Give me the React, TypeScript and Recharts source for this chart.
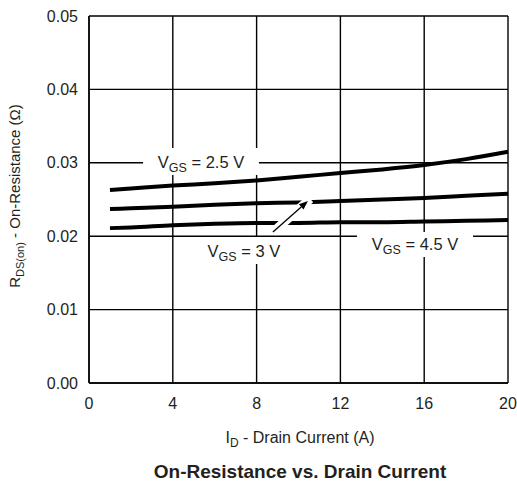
import React from 'react';
import { LineChart, Line, XAxis, YAxis, CartesianGrid, ReferenceArea, ReferenceLine } from 'recharts';

const currentA = [1, 2, 4, 6, 8, 10, 12, 14, 16, 18, 20];
const rdsVgs25 = [0.0263, 0.0265, 0.0269, 0.0272, 0.0276, 0.0281, 0.0286, 0.0291, 0.0297, 0.0305, 0.0315];
const rdsVgs3 = [0.0237, 0.0238, 0.024, 0.0243, 0.0245, 0.0246, 0.0248, 0.025, 0.0252, 0.0255, 0.0258];
const rdsVgs45 = [0.0211, 0.0212, 0.0215, 0.0217, 0.0218, 0.0218, 0.0219, 0.0219, 0.022, 0.0221, 0.0222];
const xTicks = [0, 4, 8, 12, 16, 20];
const yTicks = [0, 0.01, 0.02, 0.03, 0.04, 0.05];

const data = currentA.map((x, i) => ({ x, v25: rdsVgs25[i], v3: rdsVgs3[i], v45: rdsVgs45[i] }));

const TXT = '#231f20';
const FONT = 'Liberation Sans, Arial, Helvetica, sans-serif';

const vgsLabel = (value: string) => (props: any) => {
  const vb = props.viewBox || {};
  const cx = vb.x + vb.width / 2;
  const cy = vb.y + vb.height / 2;
  return (
    <text x={cx} y={cy + 6} textAnchor="middle" fontSize={16.5} fontFamily={FONT} fill={TXT}>
      V<tspan dy={4} fontSize={12.5}>GS</tspan>
      <tspan dy={-4}>{` = ${value}`}</tspan>
    </text>
  );
};

const arrowShape = (props: any) => {
  const { x1, y1, x2, y2 } = props;
  if ([x1, y1, x2, y2].some((v) => typeof v !== 'number' || isNaN(v))) return <g />;
  const dx = x2 - x1;
  const dy = y2 - y1;
  const len = Math.sqrt(dx * dx + dy * dy);
  const ux = dx / len;
  const uy = dy / len;
  const hl = 9;
  const hw = 3.5;
  const bx = x2 - ux * hl;
  const by = y2 - uy * hl;
  const pts = `${x2},${y2} ${bx - uy * hw},${by + ux * hw} ${bx + uy * hw},${by - ux * hw}`;
  return (
    <g>
      <line x1={x1} y1={y1} x2={x2 + ux * 3} y2={y2 + uy * 3} stroke="#fff" strokeWidth={9} />
      <line x1={x1} y1={y1} x2={bx} y2={by} stroke="#000" strokeWidth={1.3} />
      <polygon points={pts} fill="#000" />
    </g>
  );
};

export default function App() {
  return (
    <div style={{ position: 'absolute', left: 0, top: 0, width: 517, height: 484, background: '#fff' }}>
      <LineChart width={517} height={484} data={data} margin={{ top: 16, right: 9, bottom: 71, left: 29 }}>
        <CartesianGrid stroke="#000" strokeWidth={1.4} strokeOpacity={1} />
        <XAxis
          dataKey="x"
          type="number"
          domain={[0, 20]}
          ticks={xTicks}
          height={30}
          axisLine={{ stroke: '#000', strokeWidth: 1.4 }}
          tickLine={false}
          tickSize={0}
          tickMargin={15}
          tick={{ fill: TXT, fontSize: 16, fontFamily: FONT }}
        />
        <YAxis
          type="number"
          domain={[0, 0.05]}
          ticks={yTicks}
          width={60}
          axisLine={{ stroke: '#000', strokeWidth: 1.4 }}
          tickLine={false}
          tickSize={0}
          tickMargin={11}
          tickFormatter={(v: number) => v.toFixed(2)}
          tick={{ fill: TXT, fontSize: 16, fontFamily: FONT }}
        />
        <ReferenceArea x1={2.58} x2={8.11} y1={0.02834} y2={0.032} fill="#fff" fillOpacity={1} stroke="none" ifOverflow="visible" label={vgsLabel('2.5 V')} />
        <ReferenceArea x1={4.96} x2={9.83} y1={0.01621} y2={0.01989} fill="#fff" fillOpacity={1} stroke="none" ifOverflow="visible" label={vgsLabel('3 V')} />
        <ReferenceArea x1={12.79} x2={18.33} y1={0.01717} y2={0.02057} fill="#fff" fillOpacity={1} stroke="none" ifOverflow="visible" label={vgsLabel('4.5 V')} />
        <Line dataKey="v25" type="monotone" stroke="#000" strokeWidth={4} dot={false} isAnimationActive={false} />
        <Line dataKey="v3" type="monotone" stroke="#000" strokeWidth={4} dot={false} isAnimationActive={false} />
        <Line dataKey="v45" type="monotone" stroke="#000" strokeWidth={4} dot={false} isAnimationActive={false} />
        <ReferenceLine
          segment={[{ x: 8.78, y: 0.02057 }, { x: 10.45, y: 0.0248 }]}
          ifOverflow="visible"
          shape={arrowShape}
          zIndex={1000}
        />
      </LineChart>
      <svg width={517} height={484} style={{ position: 'absolute', left: 0, top: 0, pointerEvents: 'none' }}>
        <text transform="translate(20,196) rotate(-90)" textAnchor="middle" fontSize={15} fontFamily={FONT} fill={TXT}>
          R<tspan dy={4} fontSize={11}>DS(on)</tspan>
          <tspan dy={-4}> - On-Resistance (Ω)</tspan>
        </text>
        <text x={300} y={443} textAnchor="middle" fontSize={16} fontFamily={FONT} fill={TXT}>
          I<tspan dy={4} fontSize={12}>D</tspan>
          <tspan dy={-4}> - Drain Current (A)</tspan>
        </text>
        <text x={300} y={478} textAnchor="middle" fontSize={19} fontWeight="bold" fontFamily={FONT} fill={TXT}>
          On-Resistance vs. Drain Current
        </text>
      </svg>
    </div>
  );
}
